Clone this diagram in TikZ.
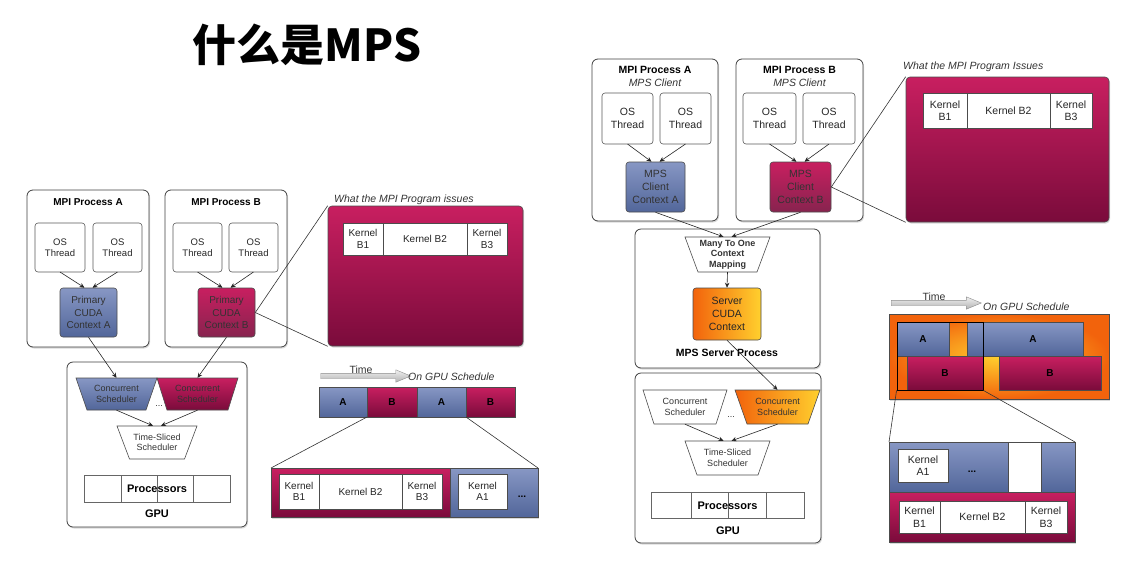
\documentclass[tikz,border=0pt]{standalone}
\usepackage{fontspec}
\setmainfont{Liberation Sans}
\newfontfamily\cjk{Noto Sans CJK SC}
\usetikzlibrary{positioning,shadows,arrows.meta,shapes.arrows}

\definecolor{bluetop}{HTML}{8797C4}
\definecolor{bluebot}{HTML}{52669A}
\definecolor{magtop}{HTML}{C81F60}
\definecolor{magbot}{HTML}{7A0B3B}
\definecolor{orgdark}{HTML}{F2630C}
\definecolor{orglight}{HTML}{FFD02E}

\tikzset{
  proc/.style={draw=black!75, fill=white, line width=0.8pt, rounded corners=6pt, inner sep=0pt, outer sep=0pt,
    drop shadow={opacity=.3, shadow xshift=1pt, shadow yshift=-1.5pt}},
  ptitle/.style={font=\bfseries\fontsize{10}{12}\selectfont, inner sep=0pt},
  psub/.style={font=\itshape\fontsize{10.5}{12}\selectfont, inner sep=0pt, text=black!80},
  thread/.style={draw=black!65, fill=white, line width=0.6pt, rounded corners=3pt, align=center, inner sep=0pt,
    outer sep=0pt, text=black!85, font=\fontsize{9.5}{11.5}\selectfont},
  ctxblue/.style={draw=black!70, line width=0.6pt, rounded corners=3pt, top color=bluetop, bottom color=bluebot,
    align=center, inner sep=0pt, text=black!80, font=\fontsize{10}{12.5}\selectfont},
  ctxmag/.style={ctxblue, top color=magtop, bottom color=magbot!90},
  ctxorange/.style={ctxblue, left color=orgdark, right color=orglight, text=black!85},
  schedtext/.style={inner sep=0pt, align=center, font=\fontsize{9}{10.5}\selectfont, text=black!80},
  trapwhite/.style={draw=black!70, line width=0.6pt, fill=white},
  trapblue/.style={trapwhite, top color=bluetop, bottom color=bluebot},
  trapmag/.style={trapwhite, top color=magtop, bottom color=magbot},
  traporange/.style={trapwhite, left color=orgdark, right color=orglight},
  issues/.style={draw=black!70, line width=0.6pt, rounded corners=4pt, top color=magtop, bottom color=magbot, inner sep=0pt,
    drop shadow={opacity=.3, shadow xshift=1pt, shadow yshift=-1.5pt}},
  issuelabel/.style={font=\itshape\fontsize{10.5}{12}\selectfont, inner sep=0pt, anchor=west, text=black!80},
  kern/.style={draw=black!70, fill=white, line width=0.6pt, inner sep=0pt, outer sep=0pt, align=center,
    font=\fontsize{10}{11.5}\selectfont, text=black!85},
  cell/.style={draw=black!70, line width=0.6pt, inner sep=0pt, outer sep=0pt, font=\bfseries\fontsize{10}{12}\selectfont},
  bluecell/.style={cell, top color=bluetop, bottom color=bluebot},
  magcell/.style={cell, top color=magtop, bottom color=magbot},
  pcell/.style={draw=black!60, fill=white, line width=0.6pt, inner sep=0pt, outer sep=0pt},
  bold/.style={font=\bfseries\fontsize{11}{13}\selectfont, inner sep=0pt},
  timearrow/.style={single arrow, draw=black!45, top color=black!6, bottom color=black!30, minimum height=90pt,
    minimum width=12pt, single arrow head extend=3.5pt, single arrow tip angle=45, inner sep=2.5pt},
  timetext/.style={font=\fontsize{10.5}{12}\selectfont, inner sep=0pt, text=black!80},
  conn/.style={-{Stealth[length=5pt,width=4.5pt]}, line width=0.6pt, black!85},
  zoomline/.style={line width=0.6pt, black!80}
}

% #1 name, #2 x, #3 y, #4 half top, #5 half bottom, #6 half height, #7 fill style, #8 text
\newcommand{\trapnode}[8]{%
  \path[#7] ({#2-#4},{#3-#6}) -- ({#2+#4},{#3-#6}) -- ({#2+#5},{#3+#6}) -- ({#2-#5},{#3+#6}) -- cycle;
  \node[schedtext, minimum width={2*#4}, minimum height={2*#6}] (#1) at (#2,#3) {#8};}

\begin{document}
\begin{tikzpicture}[x=1pt, y=-1pt]
\useasboundingbox (0,0) rectangle (1121,560);

\node[font=\cjk\bfseries\fontsize{44}{48}\selectfont, inner sep=0pt] (title) at (307,45) {什么是MPS};

% ---- left: without MPS
\node[proc, minimum width=122pt, minimum height=157pt] (procA) at (88,268.5) {};
\node[ptitle] (procAt) at (88,202) {MPI Process A};
\node[thread, minimum width=50pt, minimum height=49pt] (thA1) at (60,247.5) {OS\\Thread};
\node[thread, minimum width=49pt, minimum height=49pt, right=8pt of thA1] (thA2) {OS\\Thread};
\node[ctxblue, minimum width=57pt, minimum height=49pt] (ctxA) at (88.5,312.5) {Primary\\CUDA\\Context A};

\node[proc, minimum width=122pt, minimum height=157pt] (procB) at (226,268.5) {};
\node[ptitle] (procBt) at (226,202) {MPI Process B};
\node[thread, minimum width=49pt, minimum height=49pt] (thB1) at (197.5,247.5) {OS\\Thread};
\node[thread, minimum width=49pt, minimum height=49pt, right=7pt of thB1] (thB2) {OS\\Thread};
\node[ctxmag, minimum width=57pt, minimum height=49pt] (ctxB) at (226.5,312.5) {Primary\\CUDA\\Context B};

\node[proc, minimum width=180pt, minimum height=165pt] (gpuL) at (157,444.5) {};
\trapnode{csA}{116.5}{394}{40.5}{29.5}{16}{trapblue}{Concurrent\\Scheduler}
\trapnode{csB}{197.5}{394}{40.5}{30.5}{16}{trapmag}{Concurrent\\Scheduler}
\node[schedtext] (dotsL) at (159,406) {...};
\trapnode{tsL}{157}{442.5}{40}{27.5}{16.5}{trapwhite}{Time-Sliced\\Scheduler}
\node[pcell, minimum width=37pt, minimum height=27pt] (pL1) at (102.5,488.5) {};
\node[pcell, minimum width=36pt, minimum height=27pt, right=0pt of pL1] (pL2) {};
\node[pcell, minimum width=36pt, minimum height=27pt, right=0pt of pL2] (pL3) {};
\node[pcell, minimum width=37pt, minimum height=27pt, right=0pt of pL3] (pL4) {};
\node[bold] at (157,489) {Processors};
\node[bold] (gpuLt) at (157,514) {GPU};

\draw[conn] (thA1.south) -- ([xshift=-4pt]ctxA.north);
\draw[conn] (thA2.south) -- ([xshift=4pt]ctxA.north);
\draw[conn] (thB1.south) -- ([xshift=-4pt]ctxB.north);
\draw[conn] (thB2.south) -- ([xshift=4pt]ctxB.north);
\draw[conn] (ctxA.south) -- (csA.north);
\draw[conn] (ctxB.south) -- (csB.north);
\draw[conn] (csA.south) -- ([xshift=-4pt]tsL.north);
\draw[conn] (csB.south) -- ([xshift=4pt]tsL.north);

\node[issues, minimum width=195pt, minimum height=140pt] (issL) at (425.5,276) {};
\node[issuelabel] at (334,200) {What the MPI Program issues};
\node[kern, minimum width=40pt, minimum height=32pt] (iLb1) at (363,239) {Kernel\\B1};
\node[kern, minimum width=84pt, minimum height=32pt, right=0pt of iLb1] (iLb2) {Kernel B2};
\node[kern, minimum width=40pt, minimum height=32pt, right=0pt of iLb2] (iLb3) {Kernel\\B3};
\draw[zoomline] (ctxB.east) -- (issL.north west);
\draw[zoomline] (ctxB.east) -- (issL.south west);

\node[timearrow] (timeL) at (362.5,376) {};
\node[timetext, anchor=south] at (361,373.5) {Time};
\node[timetext, anchor=west, font=\itshape\fontsize{10.5}{12}\selectfont] at (408,377) {On GPU Schedule};
\node[bluecell, minimum width=48pt, minimum height=30pt] (sA1) at (343,402) {A};
\node[magcell, minimum width=50pt, minimum height=30pt, right=0pt of sA1] (sB1) {B};
\node[bluecell, minimum width=49pt, minimum height=30pt, right=0pt of sB1] (sA2) {A};
\node[magcell, minimum width=49pt, minimum height=30pt, right=0pt of sA2] (sB2) {B};

\node[magcell, minimum width=179pt, minimum height=49pt, drop shadow={opacity=.3, shadow xshift=1pt, shadow yshift=-1.5pt}] (botLB) at (360.5,492.5) {};
\node[bluecell, minimum width=88pt, minimum height=49pt, right=0pt of botLB, drop shadow={opacity=.3, shadow xshift=1pt, shadow yshift=-1.5pt}] (botLA) {};
\node[kern, minimum width=40pt, minimum height=35pt] (kLb1) at (299,491.5) {Kernel\\B1};
\node[kern, minimum width=83pt, minimum height=35pt, right=0pt of kLb1] (kLb2) {Kernel B2};
\node[kern, minimum width=40pt, minimum height=35pt, right=0pt of kLb2] (kLb3) {Kernel\\B3};
\node[kern, minimum width=49pt, minimum height=35pt] (kLa1) at (482.5,491.5) {Kernel\\A1};
\node[bold, font=\bfseries\fontsize{10}{12}\selectfont] (dotsLb) at (522,497) {...};
\draw[zoomline] (sB1.south west) -- (botLB.north west);
\draw[zoomline] (sA2.south east) -- (botLA.north east);

% ---- right: with MPS
\node[proc, minimum width=126pt, minimum height=162pt] (procRA) at (655,140) {};
\node[ptitle, font=\bfseries\fontsize{10.5}{12}\selectfont] at (655,70) {MPI Process A};
\node[psub] at (655,83) {MPS Client};
\node[thread, font=\fontsize{10.5}{12.5}\selectfont, minimum width=51pt, minimum height=51pt] (thRA1) at (627.5,118.5) {OS\\Thread};
\node[thread, font=\fontsize{10.5}{12.5}\selectfont, minimum width=51pt, minimum height=51pt, right=7pt of thRA1] (thRA2) {OS\\Thread};
\node[ctxblue, font=\fontsize{10.5}{13}\selectfont, minimum width=59pt, minimum height=50pt] (ctxRA) at (655.5,187) {MPS\\Client\\Context A};

\node[proc, minimum width=127pt, minimum height=162pt] (procRB) at (799.5,140) {};
\node[ptitle, font=\bfseries\fontsize{10.5}{12}\selectfont] at (799.5,70) {MPI Process B};
\node[psub] at (799.5,83) {MPS Client};
\node[thread, font=\fontsize{10.5}{12.5}\selectfont, minimum width=53pt, minimum height=51pt] (thRB1) at (769.5,118.5) {OS\\Thread};
\node[thread, font=\fontsize{10.5}{12.5}\selectfont, minimum width=52pt, minimum height=51pt, right=7pt of thRB1] (thRB2) {OS\\Thread};
\node[ctxmag, font=\fontsize{10.5}{13}\selectfont, minimum width=61pt, minimum height=50pt] (ctxRB) at (800.5,187) {MPS\\Client\\Context B};

\node[proc, minimum width=185pt, minimum height=139pt] (srv) at (727.5,298.5) {};
\trapnode{mapR}{727.5}{254.5}{42.5}{29.5}{17.5}{trapwhite}{\bfseries Many To One\\\bfseries Context\\\bfseries Mapping}
\node[ctxorange, font=\fontsize{10.5}{13}\selectfont, minimum width=68pt, minimum height=52pt] (srvctx) at (727,314) {Server\\CUDA\\Context};
\node[bold, font=\bfseries\fontsize{10.5}{12}\selectfont] at (727,353) {MPS Server Process};

\draw[conn] (thRA1.south) -- ([xshift=-4pt]ctxRA.north);
\draw[conn] (thRA2.south) -- ([xshift=4pt]ctxRA.north);
\draw[conn] (thRB1.south) -- ([xshift=-4pt]ctxRB.north);
\draw[conn] (thRB2.south) -- ([xshift=4pt]ctxRB.north);
\draw[conn] (ctxRA.south) -- ([xshift=-4pt]mapR.north);
\draw[conn] (ctxRB.south) -- ([xshift=4pt]mapR.north);
\draw[conn] (mapR.south) -- (srvctx.north);

\node[issues, minimum width=203pt, minimum height=145pt] (issR) at (1007.5,149.5) {};
\node[issuelabel] at (903,67) {What the MPI Program Issues};
\node[kern, font=\fontsize{10.5}{12.5}\selectfont, minimum width=44pt, minimum height=35pt] (kRb1) at (945,110.5) {Kernel\\B1};
\node[kern, font=\fontsize{10.5}{12.5}\selectfont, minimum width=83pt, minimum height=35pt, right=0pt of kRb1] (kRb2) {Kernel B2};
\node[kern, font=\fontsize{10.5}{12.5}\selectfont, minimum width=42pt, minimum height=35pt, right=0pt of kRb2] (kRb3) {Kernel\\B3};
\draw[zoomline] (ctxRB.east) -- (issR.north west);
\draw[zoomline] (ctxRB.east) -- (issR.south west);

\node[proc, minimum width=186pt, minimum height=170pt] (gpuR) at (728,458) {};
\trapnode{csR1}{685}{407}{42}{31}{17}{trapwhite}{Concurrent\\Scheduler}
\trapnode{csR2}{777.5}{407}{42.5}{30.5}{17}{traporange}{Concurrent\\Scheduler}
\node[schedtext] (dotsR) at (731,417) {...};
\trapnode{tsR}{727.5}{458}{42.5}{30.5}{17}{trapwhite}{Time-Sliced\\Scheduler}
\node[pcell, minimum width=40pt, minimum height=26pt] (pR1) at (671,505) {};
\node[pcell, minimum width=37pt, minimum height=26pt, right=0pt of pR1] (pR2) {};
\node[pcell, minimum width=38pt, minimum height=26pt, right=0pt of pR2] (pR3) {};
\node[pcell, minimum width=38pt, minimum height=26pt, right=0pt of pR3] (pR4) {};
\node[bold] at (727.5,505.5) {Processors};
\node[bold] (gpuRt) at (728,531) {GPU};

\draw[conn] (srvctx.south) -- (csR2.north);
\draw[conn] (csR1.south) -- ([xshift=-4pt]tsR.north);
\draw[conn] (csR2.south) -- ([xshift=4pt]tsR.north);

\node[timearrow] (timeR) at (933,303) {};
\node[timetext, anchor=south] at (934,300.5) {Time};
\node[timetext, anchor=west, font=\itshape\fontsize{10.5}{12}\selectfont] at (983,307) {On GPU Schedule};

\node[draw=black!70, line width=0.6pt, inner sep=0pt, minimum width=220pt, minimum height=85pt,
  inner color=orglight, outer color=orgdark, drop shadow={opacity=.3, shadow xshift=1pt, shadow yshift=-1.5pt}] (orgR) at (999,356.5) {};
\node[bluecell, minimum width=52pt, minimum height=34pt] (rA1) at (923,339) {A};
\node[bluecell, minimum width=16pt, minimum height=34pt] (rA2) at (975,339) {};
\node[bluecell, minimum width=100pt, minimum height=34pt, right=0pt of rA2] (rA3) {A};
\node[magcell, minimum width=76pt, minimum height=34pt] (rB1) at (945,373) {B};
\node[magcell, minimum width=102pt, minimum height=34pt] (rB2) at (1050,373) {B};
\node[draw=black, line width=0.9pt, inner sep=0pt, minimum width=86pt, minimum height=68pt] (zoomR) at (940,356) {};

\node[bluecell, minimum width=186pt, minimum height=50pt, drop shadow={opacity=.3, shadow xshift=1pt, shadow yshift=-1.5pt}] (botRA) at (982,467) {};
\node[magcell, minimum width=186pt, minimum height=50pt, below=0pt of botRA, drop shadow={opacity=.3, shadow xshift=1pt, shadow yshift=-1.5pt}] (botRB) {};
\node[pcell, draw=black!70, minimum width=33pt, minimum height=50pt] (gapR) at (1024.5,467) {};
\node[kern, font=\fontsize{10.5}{12.5}\selectfont, minimum width=50pt, minimum height=33pt] (kRa1) at (923,465.5) {Kernel\\A1};
\node[bold, font=\bfseries\fontsize{10}{12}\selectfont] (dotsRb) at (972,472) {...};
\node[kern, font=\fontsize{10.5}{12.5}\selectfont, minimum width=41pt, minimum height=32pt] (kRB1) at (919.5,517) {Kernel\\B1};
\node[kern, font=\fontsize{10.5}{12.5}\selectfont, minimum width=85pt, minimum height=32pt, right=0pt of kRB1] (kRB2) {Kernel B2};
\node[kern, font=\fontsize{10.5}{12.5}\selectfont, minimum width=42pt, minimum height=32pt, right=0pt of kRB2] (kRB3) {Kernel\\B3};
\draw[zoomline] (zoomR.south west) -- (botRA.north west);
\draw[zoomline] (zoomR.south east) -- (botRA.north east);
\end{tikzpicture}
\end{document}
